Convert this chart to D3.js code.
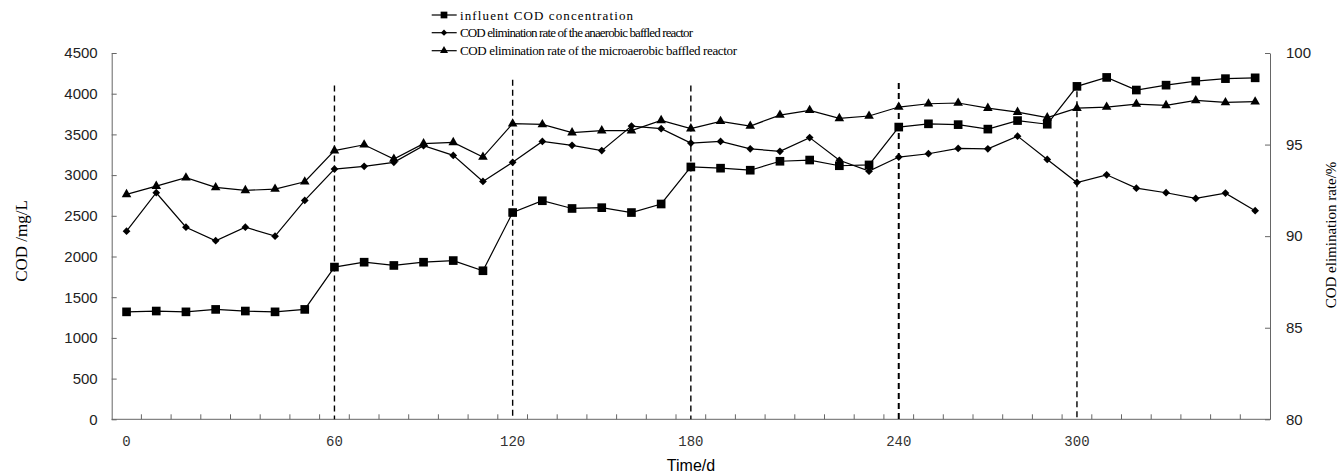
<!DOCTYPE html>
<html lang="en">
<head>
    <meta charset="UTF-8">
    <title>COD</title>
    <script type="text/javascript" src="https://cdn.jsdelivr.net/npm/d3@7/dist/d3.min.js"></script>
    <style>
        body { margin: 0; background: #fff; }
        .axis path, .axis line { stroke: #666; }
        .series path { fill: none; stroke: #000; stroke-width: 1.2; }
        .legend text { font: 13px "Liberation Serif", serif; fill: #000; }
    </style>
</head>
<body>
<svg id="chart" width="1339" height="473"></svg>
<script>
    // x categories (sampling points), only some are labelled
    var xTickLabels = ["0", "", "", "", "", "", "", "60", "", "", "", "", "", "120", "", "", "", "", "", "180",
        "", "", "", "", "", "", "240", "", "", "", "", "", "300", "", "", "", "", "", ""];

    // influent COD, mg/L (left axis)
    var influentCOD = [1320, 1330, 1320, 1350, 1330, 1320, 1350, 1870, 1930, 1890, 1930, 1950, 1825,
        2540, 2685, 2590, 2600, 2540, 2645, 3100, 3085, 3060, 3170, 3185, 3115, 3125, 3590,
        3630, 3620, 3565, 3670, 3625, 4090, 4200, 4045, 4105, 4155, 4185, 4195];

    // elimination rate, % (right axis)
    var anaerobicRate = [90.27, 92.37, 90.49, 89.75, 90.49, 90.0, 91.95, 93.66, 93.81, 94.03, 94.94, 94.41, 92.99, 94.03,
        95.17, 94.96, 94.67, 96.01, 95.87, 95.08, 95.17, 94.77, 94.63, 95.38, 94.14, 93.55, 94.32,
        94.50, 94.79, 94.77, 95.46, 94.19, 92.93, 93.35, 92.62, 92.37, 92.06, 92.35, 91.39];

    var microaerobicRate = [92.28, 92.73, 93.19, 92.66, 92.50, 92.57, 92.97, 94.67, 94.99, 94.21, 95.05, 95.12, 94.32, 96.14,
        96.10, 95.65, 95.76, 95.76, 96.32, 95.87, 96.27, 96.01, 96.61, 96.87, 96.43, 96.56, 97.05,
        97.23, 97.27, 96.99, 96.77, 96.47, 96.99, 97.05, 97.21, 97.14, 97.41, 97.30, 97.34];

    // stage boundaries (category index) and how high the dashed line goes (mg/L)
    var stageIndex = [7, 13, 19, 26, 32];
    var stageTop = [4100, 4170, 4100, 4130, 4030];

    var leftTicks = [0, 500, 1000, 1500, 2000, 2500, 3000, 3500, 4000, 4500];
    var rightTicks = [80, 85, 90, 95, 100];

    var legendNames = ["influent COD  concentration",
        "COD elimination rate of the anaerobic baffled reactor",
        "COD elimination rate of the microaerobic baffled reactor"];

    var svg = d3.select("#chart");
    var plotLeft = 111.7, plotRight = 1270, plotTop = 53, plotBottom = 419.3;

    var x = d3.scaleBand()
        .domain(d3.range(xTickLabels.length))
        .range([plotLeft, plotRight])
        .padding(0);

    var yLeft = d3.scaleLinear().domain([0, 4500]).range([plotBottom, plotTop]);
    var yRight = d3.scaleLinear().domain([80, 100]).range([plotBottom, plotTop]);

    function cx(i) {
        return x(i) + x.bandwidth() / 2;
    }

    // axes
    var gLeft = svg.append("g")
        .attr("class", "axis")
        .attr("transform", "translate(" + plotLeft + ",0)")
        .call(d3.axisLeft(yLeft).tickValues(leftTicks).tickFormat(d3.format("d"))
            .tickSizeInner(-5).tickSizeOuter(0).tickPadding(14));
    gLeft.selectAll("text")
        .style("font", "15px 'Liberation Sans', Arial, sans-serif")
        .attr("fill", "#222");

    var gRight = svg.append("g")
        .attr("class", "axis")
        .attr("transform", "translate(" + plotRight + ",0)")
        .call(d3.axisRight(yRight).tickValues(rightTicks).tickFormat(d3.format("d"))
            .tickSizeInner(-5).tickSizeOuter(0).tickPadding(16));
    gRight.selectAll("text")
        .style("font", "15px 'Liberation Sans', Arial, sans-serif")
        .attr("fill", "#222");

    var gBottom = svg.append("g")
        .attr("class", "axis")
        .attr("transform", "translate(0," + plotBottom + ")")
        .call(d3.axisBottom(x).tickSize(0).tickPadding(17).tickFormat(function (i) {
            return xTickLabels[i];
        }));
    gBottom.select(".domain").attr("d", "M" + plotLeft + ",0H" + plotRight);
    gBottom.selectAll("text")
        .style("font", "14px 'Liberation Mono', monospace")
        .attr("fill", "#333");

    // tick marks between categories
    gBottom.selectAll("line.sep")
        .data(d3.range(1, xTickLabels.length))
        .enter()
        .append("line")
        .attr("class", "sep")
        .attr("x1", function (i) { return x(i); })
        .attr("x2", function (i) { return x(i); })
        .attr("y1", 0)
        .attr("y2", -5)
        .attr("stroke", "#666");

    // stage dashed lines
    svg.append("g")
        .selectAll("line")
        .data(stageIndex)
        .enter()
        .append("line")
        .attr("x1", function (d) { return cx(d); })
        .attr("x2", function (d) { return cx(d); })
        .attr("y1", function (d, k) { return yLeft(stageTop[k]); })
        .attr("y2", plotBottom)
        .attr("stroke", "#000")
        .attr("stroke-width", function (d) { return d === 26 ? 2 : 1.4; })
        .attr("stroke-dasharray", "6,4");

    // series
    var series = [
        {values: influentCOD, y: yLeft, symbol: d3.symbolSquare, size: 75, legendSize: 45, rotate: 0},
        {values: anaerobicRate, y: yRight, symbol: d3.symbolSquare, size: 30, legendSize: 20, rotate: 45},
        {values: microaerobicRate, y: yRight, symbol: d3.symbolTriangle, size: 40, legendSize: 28, rotate: 0}
    ];

    series.forEach(function (s) {
        var g = svg.append("g").attr("class", "series");
        var line = d3.line()
            .x(function (d, i) { return cx(i); })
            .y(function (d) { return s.y(d); });

        g.append("path").attr("d", line(s.values));

        g.selectAll("path.marker")
            .data(s.values)
            .enter()
            .append("path")
            .attr("class", "marker")
            .attr("d", d3.symbol().type(s.symbol).size(s.size))
            .attr("transform", function (d, i) {
                return "translate(" + cx(i) + "," + s.y(d) + ") rotate(" + s.rotate + ")";
            })
            .style("fill", "#000")
            .style("stroke", "none");
    });

    // legend
    var legendRows = [15, 32.7, 50.7];
    var legendWidths = [173, 233, 277];
    var legend = svg.append("g").attr("class", "legend");
    series.forEach(function (s, k) {
        var ly = legendRows[k];
        legend.append("line")
            .attr("x1", 431.7).attr("x2", 456.7)
            .attr("y1", ly).attr("y2", ly)
            .attr("stroke", "#000").attr("stroke-width", 1.2);
        legend.append("path")
            .attr("d", d3.symbol().type(s.symbol).size(s.legendSize))
            .attr("transform", "translate(444," + ly + ") rotate(" + s.rotate + ")")
            .attr("fill", "#000");
        legend.append("text")
            .attr("x", 460)
            .attr("y", ly + 4.5)
            .attr("textLength", legendWidths[k])
            .attr("lengthAdjust", "spacing")
            .text(legendNames[k]);
    });

    // axis titles
    svg.append("text")
        .attr("transform", "translate(26.5,241) rotate(-90)")
        .attr("text-anchor", "middle")
        .style("font", "17px 'Liberation Serif', serif")
        .text("COD /mg/L");

    svg.append("text")
        .attr("transform", "translate(1336,235) rotate(-90)")
        .attr("text-anchor", "middle")
        .style("font", "15px 'Liberation Serif', serif")
        .text("COD elimination rate/%");

    svg.append("text")
        .attr("x", 691)
        .attr("y", 470.5)
        .attr("text-anchor", "middle")
        .style("font", "16px 'Liberation Sans', Arial, sans-serif")
        .text("Time/d");
</script>
</body>
</html>
